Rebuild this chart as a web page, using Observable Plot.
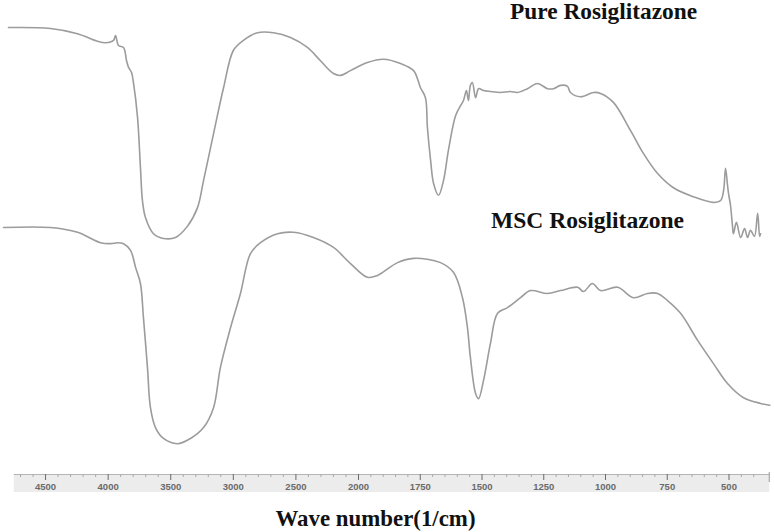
<!DOCTYPE html>
<html><head><meta charset="utf-8">
<script src="https://cdn.jsdelivr.net/npm/d3@7"></script>
<script src="https://cdn.jsdelivr.net/npm/@observablehq/plot@0.6"></script>
<style>body{margin:0;background:#fff}</style>
</head><body><div id="chart"></div>
<script>
const seriesNames = ["Pure Rosiglitazone", "MSC Rosiglitazone"];
const xTitle = "Wave number(1/cm)";
const tickLabels = [4500, 4000, 3500, 3000, 2500, 2000, 1750, 1500, 1250, 1000, 750, 500];

const pureWavenumber = [4796,4460,4245,4085,4021,3957,3941,3917,3877,3853,3837,3813,3797,3765,3742,3726,3702,3638,3558,3462,3366,3286,3238,3158,3078,2999,2919,2807,2679,2543,2408,2304,2200,2144,2064,1964,1899,1830,1777,1749,1729,1721,1708,1696,1676,1656,1636,1607,1587,1575,1563,1555,1547,1539,1526,1514,1494,1466,1425,1385,1356,1316,1275,1235,1210,1182,1154,1142,1101,1048,1020,968,899,846,789,725,644,563,534,522,514,506,502,494,486,482,470,453,437,425,413,397,384,376,372];
const pureTransmittance = [94.3,94.1,93.0,91.4,91.1,91.6,92.6,90.5,90.1,87.3,85.9,84.8,82.5,75.3,64.8,57.8,54.2,50.8,49.8,50.0,52.4,56.3,62.0,71.9,81.6,89.5,91.6,93.2,93.2,92.2,90.1,87.3,84.6,84.2,85.2,86.9,87.6,86.7,85.2,81.6,79.5,73.2,66.2,61.4,58.9,62.0,68.4,75.7,77.8,78.9,81.0,78.9,82.1,82.7,79.5,81.4,81.0,80.8,80.6,80.8,80.6,81.4,82.5,81.4,81.4,82.1,81.9,80.6,79.7,80.6,80.4,78.5,72.6,67.7,63.5,60.5,58.6,57.4,57.8,59.9,64.6,61.0,59.3,56.8,52.5,50.8,53.2,50.0,51.9,50.0,51.5,50.2,55.1,50.2,50.8];

const mscWavenumber = [4836,4460,4245,4061,3981,3925,3877,3821,3781,3742,3718,3686,3662,3622,3558,3446,3342,3238,3158,3103,3022,2943,2863,2783,2647,2519,2360,2200,2064,1964,1923,1842,1777,1668,1615,1579,1559,1547,1526,1514,1494,1466,1437,1397,1344,1304,1235,1182,1113,1089,1053,1020,951,887,830,789,749,696,627,563,506,441,372,335];
const mscTransmittance = [52.1,52.1,51.1,48.9,48.7,48.9,48.7,47.3,43.7,40.3,33.1,22.6,14.1,9.9,7.6,6.5,7.6,9.9,14.1,22.6,31.0,38.2,46.6,48.9,50.8,51.1,50.0,47.9,44.5,41.6,42.0,44.7,45.6,44.7,42.6,37.3,31.0,24.7,17.1,16.0,19.8,27.6,34.0,35.2,37.3,38.8,38.2,38.8,39.5,38.6,40.3,38.8,39.5,37.3,38.2,38.2,36.7,34.0,28.3,23.4,19.2,16.2,15.0,14.6];

const pure = pureWavenumber.map((w, i) => ({w, t: pureTransmittance[i]}));
const msc = mscWavenumber.map((w, i) => ({w, t: mscTransmittance[i]}));
const minorTicks = d3.range(4700, 2000, -100).concat(d3.range(1950, 350, -50)).filter(v => !tickLabels.includes(v));
const rulerExtent = [4750, 335];

const ruler = (index, scales, values, dims) => {
  const x = scales.x;
  const y0 = dims.height - dims.marginBottom;
  const g = d3.create("svg:g");
  const x0 = x(rulerExtent[0]), x1 = x(rulerExtent[1]);
  g.append("rect").attr("x", x0).attr("y", y0).attr("width", x1 - x0).attr("height", 18).attr("fill", "#ececec");
  g.append("line").attr("x1", x0).attr("x2", x1).attr("y1", y0 + 0.5).attr("y2", y0 + 0.5).attr("stroke", "#b5b5b5");
  g.append("line").attr("x1", x1).attr("x2", x1).attr("y1", y0 - 2).attr("y2", y0 + 8).attr("stroke", "#999");
  return g.node();
};

const serif = "'Liberation Serif', 'Times New Roman', serif";
const chart = Plot.plot({
  width: 774,
  height: 532,
  marginTop: 0, marginLeft: 0, marginRight: 0, marginBottom: 58,
  x: {type: "linear", domain: [4800, 2000, 330], range: [7.5, 358, 770.5]},
  y: {domain: [0, 100], axis: null},
  marks: [
    ruler,
    Plot.axisX(minorTicks, {tickSize: 3, tickFormat: () => "", stroke: "#aaa", label: null}),
    Plot.axisX(tickLabels, {tickSize: 6, tickPadding: 3, tickFormat: d => `${d}`, fontSize: 9.5, fontWeight: "bold", fontFamily: "'Liberation Sans', Arial, sans-serif", color: "#6a6a6a", label: null}),
    Plot.line(pure, {x: "w", y: "t", stroke: "#9c9c9c", strokeWidth: 1.6, curve: "catmull-rom"}),
    Plot.line(msc, {x: "w", y: "t", stroke: "#9c9c9c", strokeWidth: 1.6, curve: "catmull-rom"}),
    Plot.text([seriesNames[0]], {x: 1008, y: 96.0, text: d => d, lineAnchor: "bottom", textAnchor: "middle", fontSize: 23, fontWeight: "bold", fontFamily: serif, fill: "#111"}),
    Plot.text([seriesNames[1]], {x: 1073, y: 52.1, text: d => d, lineAnchor: "bottom", textAnchor: "middle", fontSize: 24, fontWeight: "bold", fontFamily: serif, fill: "#111"}),
    Plot.text([xTitle], {frameAnchor: "bottom", dx: -12, dy: 51, text: d => d, textAnchor: "middle", fontSize: 22.5, fontWeight: "bold", fontFamily: serif, fill: "#111"})
  ]
});
document.getElementById("chart").appendChild(chart);

const lengths = {"Pure Rosiglitazone": 187, "MSC Rosiglitazone": 193, "Wave number(1/cm)": 200};
chart.querySelectorAll("text").forEach(t => {
  const L = lengths[t.textContent];
  if (L) { t.setAttribute("textLength", L); t.setAttribute("lengthAdjust", "spacingAndGlyphs"); }
});
</script>
</body></html>
